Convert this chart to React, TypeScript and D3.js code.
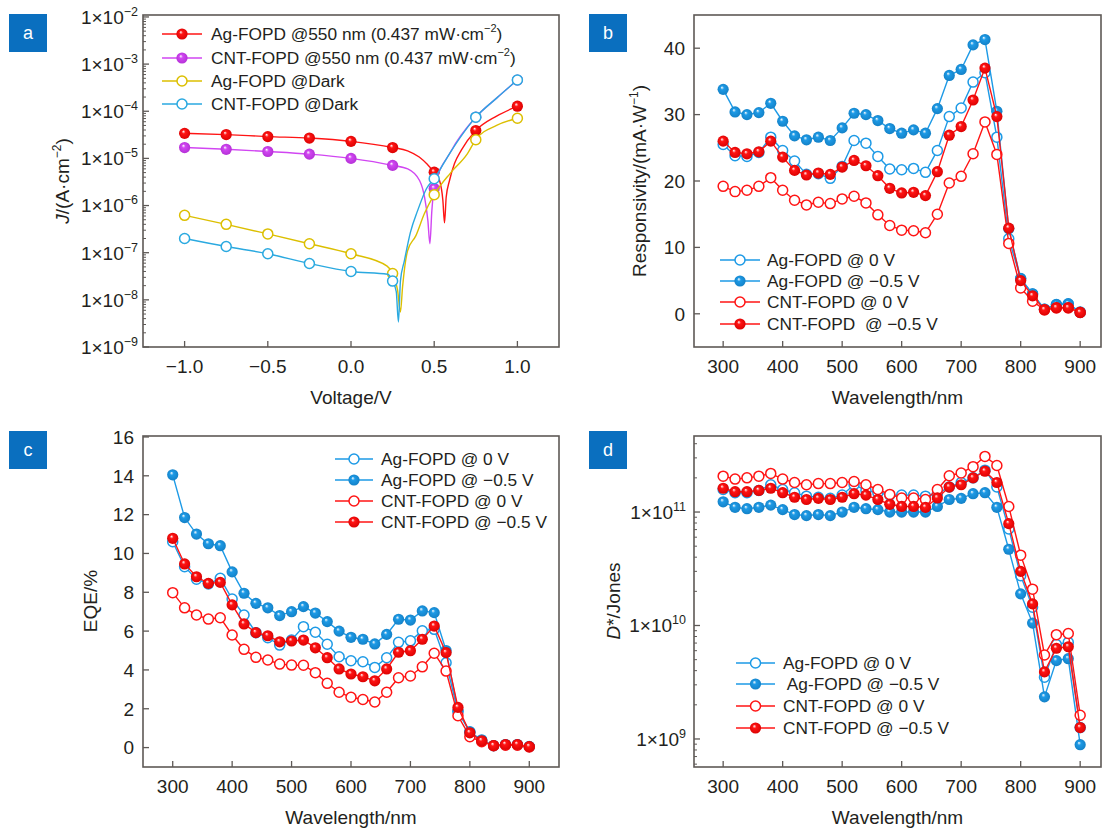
import { useEffect, useRef } from 'react';
import * as d3 from 'd3';

// ---- panel a: J-V curves (points along each measured curve) ----
const markerVolts = [-1, -0.75, -0.5, -0.25, 0, 0.25, 0.5, 0.75, 1];

const agLightV = [-1, -0.75, -0.5, -0.25, 0, 0.25, 0.34, 0.41, 0.46, 0.5, 0.532, 0.552, 0.562, 0.572, 0.592, 0.622, 0.663, 0.75, 0.875, 1];
const agLightJ = [3.4e-5, 3.2e-5, 2.9e-5, 2.7e-5, 2.3e-5, 1.7e-5, 1.45e-5, 1.07e-5, 7.4e-6, 5.1e-6, 3.4e-6, 1.3e-6, 4.3e-7, 1.5e-6, 3.4e-6, 7.8e-6, 1.5e-5, 3.9e-5, 7.9e-5, 1.28e-4];

const cntLightV = [-1, -0.75, -0.5, -0.25, 0, 0.25, 0.341, 0.412, 0.442, 0.462, 0.474, 0.486, 0.5, 0.6, 0.75, 0.875, 1];
const cntLightJ = [1.7e-5, 1.56e-5, 1.4e-5, 1.23e-5, 1.0e-5, 7.1e-6, 6.0e-6, 3.4e-6, 1.5e-6, 4.8e-7, 1.55e-7, 7.9e-7, 2.3e-6, 1.4e-5, 7.5e-5, 1.9e-4, 4.6e-4];

const agDarkV = [-1, -0.75, -0.5, -0.25, 0, 0.217, 0.25, 0.28, 0.297, 0.31, 0.34, 0.39, 0.44, 0.5, 0.6, 0.7, 0.75, 0.875, 1];
const agDarkJ = [6.2e-7, 4.0e-7, 2.5e-7, 1.55e-7, 9.5e-8, 5.2e-8, 3.6e-8, 1.6e-8, 5.5e-9, 1.9e-8, 1.1e-7, 2.3e-7, 6.6e-7, 1.7e-6, 5.0e-6, 1.26e-5, 2.5e-5, 5.0e-5, 7.1e-5];

const cntDarkV = [-1, -0.75, -0.5, -0.25, 0, 0.22, 0.25, 0.272, 0.285, 0.297, 0.321, 0.357, 0.401, 0.454, 0.5, 0.6, 0.75, 0.875, 1];
const cntDarkJ = [2.0e-7, 1.35e-7, 9.5e-8, 5.9e-8, 4.0e-8, 3.5e-8, 2.5e-8, 1.5e-8, 3.4e-9, 2.5e-8, 6.8e-8, 2.7e-7, 7.9e-7, 2.3e-6, 3.7e-6, 1.4e-5, 7.5e-5, 1.9e-4, 4.6e-4];

// ---- panels b-d: spectra ----
const wavelengths = [300, 320, 340, 360, 380, 400, 420, 440, 460, 480, 500, 520, 540, 560, 580, 600, 620, 640, 660, 680, 700, 720, 740, 760, 780, 800, 820, 840, 860, 880, 900];

const respAg0 = [25.5, 23.8, 23.7, 24.3, 26.6, 24.6, 23.0, 21.0, 21.1, 20.4, 22.2, 26.1, 25.7, 23.7, 21.8, 21.7, 21.9, 21.3, 24.6, 29.7, 31.0, 34.9, 36.3, 26.6, 11.3, 5.3, 3.0, 0.7, 1.4, 1.5, 0.2];
const respAgN = [33.8, 30.4, 30.0, 30.3, 31.7, 29.0, 26.8, 26.2, 26.6, 26.1, 28.0, 30.2, 30.0, 29.1, 27.9, 27.2, 27.7, 27.2, 30.9, 35.9, 36.8, 40.5, 41.3, 30.5, 12.8, 5.3, 3.0, 0.7, 1.4, 1.5, 0.3];
const respCnt0 = [19.2, 18.4, 18.6, 19.2, 20.5, 18.6, 17.1, 16.4, 16.8, 16.6, 17.3, 17.7, 16.7, 14.9, 13.3, 12.6, 12.5, 12.2, 15.0, 19.7, 20.7, 24.1, 28.9, 24.0, 10.6, 3.9, 1.9, 0.6, 0.9, 0.9, 0.2];
const respCntN = [26.0, 24.3, 24.1, 24.4, 26.0, 23.6, 21.6, 20.9, 21.2, 21.0, 22.1, 23.1, 22.3, 20.8, 18.9, 18.2, 18.3, 17.8, 21.4, 26.9, 28.2, 32.2, 37.0, 29.7, 12.9, 5.0, 2.7, 0.6, 0.9, 0.9, 0.2];

const eqeAg0 = [10.6, 9.32, 8.67, 8.43, 8.72, 7.65, 6.83, 5.92, 5.66, 5.28, 5.54, 6.23, 5.94, 5.32, 4.68, 4.47, 4.42, 4.13, 4.63, 5.42, 5.5, 6.02, 6.09, 4.37, 1.85, 0.81, 0.35, 0.1, 0.15, 0.15, 0.05];
const eqeAgN = [14.05, 11.85, 11.0, 10.5, 10.4, 9.05, 7.95, 7.43, 7.2, 6.8, 7.0, 7.26, 6.93, 6.49, 6.0, 5.68, 5.58, 5.34, 5.83, 6.61, 6.57, 7.04, 6.95, 5.0, 1.9, 0.8, 0.4, 0.1, 0.15, 0.15, 0.05];
const eqeCnt0 = [7.98, 7.2, 6.83, 6.62, 6.69, 5.8, 5.06, 4.65, 4.51, 4.3, 4.25, 4.24, 3.86, 3.31, 2.85, 2.59, 2.48, 2.35, 2.85, 3.6, 3.69, 4.16, 4.86, 3.94, 1.64, 0.56, 0.3, 0.1, 0.12, 0.12, 0.03];
const eqeCntN = [10.78, 9.46, 8.8, 8.46, 8.51, 7.35, 6.37, 5.92, 5.76, 5.45, 5.49, 5.54, 5.14, 4.63, 4.05, 3.79, 3.65, 3.44, 4.05, 4.91, 4.99, 5.58, 6.26, 4.89, 2.07, 0.76, 0.35, 0.1, 0.16, 0.16, 0.05];

const detAg0 = [1.58e11, 1.48e11, 1.48e11, 1.55e11, 1.74e11, 1.58e11, 1.48e11, 1.38e11, 1.35e11, 1.32e11, 1.41e11, 1.74e11, 1.55e11, 1.48e11, 1.41e11, 1.41e11, 1.41e11, 1.38e11, 1.45e11, 1.66e11, 1.82e11, 2.0e11, 2.34e11, 1.66e11, 7.1e10, 2.75e10, 1.45e10, 3.5e9, 6.8e9, 7.1e9, 1.26e9];
const detAgN = [1.23e11, 1.1e11, 1.07e11, 1.1e11, 1.15e11, 1.05e11, 9.5e10, 9.3e10, 9.5e10, 9.3e10, 1.0e11, 1.1e11, 1.07e11, 1.05e11, 1.0e11, 1.0e11, 1.0e11, 1.0e11, 1.12e11, 1.29e11, 1.32e11, 1.45e11, 1.48e11, 1.1e11, 4.7e10, 1.9e10, 1.05e10, 2.35e9, 4.9e9, 5.1e9, 8.9e8];
const detCnt0 = [2.07e11, 1.95e11, 2.0e11, 2.07e11, 2.19e11, 1.95e11, 1.82e11, 1.74e11, 1.78e11, 1.78e11, 1.82e11, 1.86e11, 1.74e11, 1.58e11, 1.43e11, 1.33e11, 1.33e11, 1.29e11, 1.58e11, 2.09e11, 2.21e11, 2.51e11, 3.09e11, 2.57e11, 1.12e11, 4.17e10, 2.09e10, 5.5e9, 8.3e9, 8.5e9, 1.62e9];
const detCntN = [1.62e11, 1.51e11, 1.51e11, 1.55e11, 1.62e11, 1.48e11, 1.35e11, 1.29e11, 1.32e11, 1.29e11, 1.35e11, 1.45e11, 1.41e11, 1.29e11, 1.17e11, 1.12e11, 1.12e11, 1.1e11, 1.33e11, 1.66e11, 1.74e11, 2.0e11, 2.29e11, 1.82e11, 7.9e10, 3.0e10, 1.55e10, 3.9e9, 6.3e9, 6.5e9, 1.26e9];

const voltTicks = [-1, -0.5, 0, 0.5, 1];
const waveTicks = [300, 400, 500, 600, 700, 800, 900];
const respTicks = [0, 10, 20, 30, 40];
const eqeTicks = [0, 2, 4, 6, 8, 10, 12, 14, 16];
const jExps = [-9, -8, -7, -6, -5, -4, -3, -2];
const dExps = [8, 9, 10, 11];

const FONT = '"Liberation Sans", Arial, Helvetica, sans-serif';
const TXT = '#231f20';
const AXIS = '#5e5956';
const RED = '#ff1414';
const BLUE = '#1d9ae6';
const MAGENTA = '#d146f2';
const YELLOW = '#dcbf00';
const CYAN = '#2aa9e0';
const FS = 19;      // ticks and axis titles
const FSL = 17.3;   // legends

type Box = { left: number; right: number; top: number; bottom: number };
type Txt = d3.Selection<SVGTextElement, unknown, null, undefined>;

export default function App() {
  const ref = useRef<SVGSVGElement>(null);

  useEffect(() => {
    const svg = d3.select(ref.current);
    svg.selectAll('*').remove();
    svg.append('rect').attr('width', 1103).attr('height', 828).attr('fill', '#fff');

    // shaded balls for filled markers
    const defs = svg.append('defs');
    const ball = (id: string, c: string, dark: string) => {
      const g = defs.append('radialGradient').attr('id', id)
        .attr('cx', '50%').attr('cy', '50%').attr('r', '55%').attr('fx', '38%').attr('fy', '32%');
      g.append('stop').attr('offset', '0%').attr('stop-color', '#fff');
      g.append('stop').attr('offset', '30%').attr('stop-color', c);
      g.append('stop').attr('offset', '100%').attr('stop-color', dark);
    };
    ball('gRed', RED, '#d80000');
    ball('gBlue', BLUE, '#137fc4');
    ball('gMag', MAGENTA, '#b22fd4');

    const root = svg.append('g').attr('font-family', FONT).attr('fill', TXT);

    const frame = (b: Box) => {
      root.append('rect')
        .attr('x', b.left).attr('y', b.top)
        .attr('width', b.right - b.left).attr('height', b.bottom - b.top)
        .attr('fill', 'none').attr('stroke', AXIS).attr('stroke-width', 1.6);
    };

    const sup = (t: Txt, base: string, s: string, after = '', size = 12) => {
      t.append('tspan').text(base);
      t.append('tspan').attr('font-size', size).attr('dy', -8).text(s);
      if (after) t.append('tspan').attr('dy', 8).text(after);
    };

    const xTicks = (b: Box, x: d3.ScaleLinear<number, number>, vals: number[], fmt: (v: number) => string) => {
      vals.forEach(v => {
        root.append('line').attr('x1', x(v)).attr('x2', x(v)).attr('y1', b.bottom).attr('y2', b.bottom - 6)
          .attr('stroke', AXIS).attr('stroke-width', 1.3);
        root.append('text').attr('x', x(v)).attr('y', b.bottom + 19).attr('dy', '0.36em')
          .attr('text-anchor', 'middle').attr('font-size', FS).text(fmt(v));
      });
    };

    const yTicksLin = (b: Box, y: d3.ScaleLinear<number, number>, vals: number[]) => {
      vals.forEach(v => {
        root.append('line').attr('x1', b.left).attr('x2', b.left + 6).attr('y1', y(v)).attr('y2', y(v))
          .attr('stroke', AXIS).attr('stroke-width', 1.3);
        root.append('text').attr('x', b.left - 9).attr('y', y(v)).attr('dy', '0.36em')
          .attr('text-anchor', 'end').attr('font-size', FS).text(String(v));
      });
    };

    const yTicksLog = (b: Box, y: d3.ScaleLogarithmic<number, number>, exps: number[], neg: boolean, gap: number) => {
      const [lo, hi] = y.domain();
      exps.forEach(e => {
        const v = Math.pow(10, e);
        if (v >= lo && v <= hi * 1.001) {
          root.append('line').attr('x1', b.left).attr('x2', b.left + 6).attr('y1', y(v)).attr('y2', y(v))
            .attr('stroke', AXIS).attr('stroke-width', 1.3);
          const t = root.append('text').attr('x', b.left - gap).attr('y', y(v)).attr('dy', '0.36em')
            .attr('text-anchor', 'end').attr('font-size', FS);
          sup(t, '1×10', neg ? '−' + Math.abs(e) : String(e), '', 12.5);
        }
        for (let m = 2; m <= 9; m++) {
          const mv = m * v;
          if (mv > lo && mv < hi) {
            root.append('line').attr('x1', b.left).attr('x2', b.left + 3).attr('y1', y(mv)).attr('y2', y(mv))
              .attr('stroke', AXIS).attr('stroke-width', 1);
          }
        }
      });
    };

    const marker = (g: d3.Selection<SVGGElement, unknown, null, undefined>, cx: number, cy: number, color: string, grad: string | null) => {
      if (grad) {
        g.append('circle').attr('cx', cx).attr('cy', cy).attr('r', 5.6).attr('fill', `url(#${grad})`);
      } else {
        g.append('circle').attr('cx', cx).attr('cy', cy).attr('r', 5).attr('fill', '#fff')
          .attr('stroke', color).attr('stroke-width', 1.5);
      }
    };

    const series = (xs: number[], ys: number[], x: (v: number) => number, y: (v: number) => number,
      color: string, grad: string | null, markAt: number[] | null, smooth: boolean) => {
      const g = root.append('g');
      const pts = xs.map((v, i) => [x(v), y(ys[i])] as [number, number]);
      const line = d3.line().curve(smooth ? d3.curveMonotoneX : d3.curveLinear);
      g.append('path').attr('d', line(pts)).attr('fill', 'none').attr('stroke', color).attr('stroke-width', 1.4);
      xs.forEach((v, i) => {
        if (markAt && !markAt.includes(v)) return;
        marker(g, pts[i][0], pts[i][1], color, grad);
      });
    };

    type Item = { color: string; grad: string | null; label: (t: Txt) => void };
    const legend = (items: Item[], x0: number, x1: number, xt: number, ys: number[]) => {
      items.forEach((it, i) => {
        const g = root.append('g');
        g.append('line').attr('x1', x0).attr('x2', x1).attr('y1', ys[i]).attr('y2', ys[i])
          .attr('stroke', it.color).attr('stroke-width', 1.4);
        marker(g, (x0 + x1) / 2, ys[i], it.color, it.grad);
        const t = root.append('text').attr('x', xt).attr('y', ys[i]).attr('dy', '0.36em').attr('font-size', FSL)
          .attr('xml:space', 'preserve');
        it.label(t);
      });
    };

    const tag = (x: number, y: number, s: string) => {
      root.append('rect').attr('x', x).attr('y', y).attr('width', 38).attr('height', 38).attr('fill', '#0a6fbf');
      root.append('text').attr('x', x + 19).attr('y', y + 19).attr('dy', '0.36em').attr('text-anchor', 'middle')
        .attr('font-size', 18).attr('fill', '#fff').text(s);
    };

    const yTitle = (cx: number, cy: number, build: (t: Txt) => void) => {
      const t = root.append('text').attr('transform', `translate(${cx},${cy}) rotate(-90)`)
        .attr('text-anchor', 'middle').attr('dy', '0.36em').attr('font-size', FS);
      build(t);
    };
    const xTitle = (cx: number, cy: number, s: string) => {
      root.append('text').attr('x', cx).attr('y', cy).attr('dy', '0.36em').attr('text-anchor', 'middle')
        .attr('font-size', FS).text(s);
    };

    // ================= panel a =================
    const bA: Box = { left: 143, right: 559, top: 15, bottom: 347 };
    const xA = d3.scaleLinear().domain([-1.25, 1.25]).range([bA.left, bA.right]);
    const yA = d3.scaleLog().domain([1e-9, 1.1e-2]).range([bA.bottom, bA.top]);
    series(agLightV, agLightJ, xA, yA, RED, 'gRed', markerVolts, true);
    series(cntLightV, cntLightJ, xA, yA, MAGENTA, 'gMag', markerVolts, true);
    series(agDarkV, agDarkJ, xA, yA, YELLOW, null, markerVolts, true);
    series(cntDarkV, cntDarkJ, xA, yA, CYAN, null, markerVolts, true);
    frame(bA);
    xTicks(bA, xA, voltTicks, v => (v < 0 ? '−' : '') + Math.abs(v).toFixed(1));
    yTicksLog(bA, yA, jExps, true, 5);
    xTitle((bA.left + bA.right) / 2, 397, 'Voltage/V');
    yTitle(62, 181, t => {
      t.append('tspan').attr('font-style', 'italic').text('J');
      sup(t, '/(A·cm', '−2', ')');
    });
    legend([
      { color: RED, grad: 'gRed', label: t => sup(t, 'Ag-FOPD @550 nm (0.437 mW·cm', '−2', ')', 11) },
      { color: MAGENTA, grad: 'gMag', label: t => sup(t, 'CNT-FOPD @550 nm (0.437 mW·cm', '−2', ')', 11) },
      { color: YELLOW, grad: null, label: t => { t.text('Ag-FOPD @Dark'); } },
      { color: CYAN, grad: null, label: t => { t.text('CNT-FOPD @Dark'); } },
    ], 162, 202, 211, [34, 58, 81, 104]);
    tag(9, 14, 'a');

    // ================= panel b =================
    const bB: Box = { left: 694, right: 1101, top: 15, bottom: 347 };
    const xB = d3.scaleLinear().domain([251, 935]).range([bB.left, bB.right]);
    const yB = d3.scaleLinear().domain([-5, 45]).range([bB.bottom, bB.top]);
    series(wavelengths, respAg0, xB, yB, BLUE, null, null, false);
    series(wavelengths, respAgN, xB, yB, BLUE, 'gBlue', null, false);
    series(wavelengths, respCnt0, xB, yB, RED, null, null, false);
    series(wavelengths, respCntN, xB, yB, RED, 'gRed', null, false);
    frame(bB);
    xTicks(bB, xB, waveTicks, v => String(v));
    yTicksLin(bB, yB, respTicks);
    xTitle((bB.left + bB.right) / 2, 397, 'Wavelength/nm');
    yTitle(639, 181, t => sup(t, 'Responsivity/(mA·W', '−1', ')'));
    legend([
      { color: BLUE, grad: null, label: t => { t.text('Ag-FOPD @ 0 V'); } },
      { color: BLUE, grad: 'gBlue', label: t => { t.text('Ag-FOPD @ −0.5 V'); } },
      { color: RED, grad: null, label: t => { t.text('CNT-FOPD @ 0 V'); } },
      { color: RED, grad: 'gRed', label: t => { t.text('CNT-FOPD  @ −0.5 V'); } },
    ], 720, 760, 767, [260, 281, 302, 324]);
    tag(589, 14, 'b');

    // ================= panel c =================
    const bC: Box = { left: 143, right: 559, top: 436, bottom: 767 };
    const xC = d3.scaleLinear().domain([250, 950]).range([bC.left, bC.right]);
    const yC = d3.scaleLinear().domain([-1, 16.05]).range([bC.bottom, bC.top]);
    series(wavelengths, eqeAg0, xC, yC, BLUE, null, null, false);
    series(wavelengths, eqeAgN, xC, yC, BLUE, 'gBlue', null, false);
    series(wavelengths, eqeCnt0, xC, yC, RED, null, null, false);
    series(wavelengths, eqeCntN, xC, yC, RED, 'gRed', null, false);
    frame(bC);
    xTicks(bC, xC, waveTicks, v => String(v));
    yTicksLin(bC, yC, eqeTicks);
    xTitle((bC.left + bC.right) / 2, 817, 'Wavelength/nm');
    yTitle(90, 601, t => { t.text('EQE/%'); });
    legend([
      { color: BLUE, grad: null, label: t => { t.text('Ag-FOPD @ 0 V'); } },
      { color: BLUE, grad: 'gBlue', label: t => { t.text('Ag-FOPD @ −0.5 V'); } },
      { color: RED, grad: null, label: t => { t.text('CNT-FOPD @ 0 V'); } },
      { color: RED, grad: 'gRed', label: t => { t.text('CNT-FOPD @ −0.5 V'); } },
    ], 335, 373, 381, [459, 480, 501, 522]);
    tag(9, 431, 'c');

    // ================= panel d =================
    const bD: Box = { left: 694, right: 1101, top: 436, bottom: 767 };
    const xD = d3.scaleLinear().domain([251, 935]).range([bD.left, bD.right]);
    const yD = d3.scaleLog().domain([Math.pow(10, 8.753), Math.pow(10, 11.67)]).range([bD.bottom, bD.top]);
    series(wavelengths, detAg0, xD, yD, BLUE, null, null, false);
    series(wavelengths, detAgN, xD, yD, BLUE, 'gBlue', null, false);
    series(wavelengths, detCnt0, xD, yD, RED, null, null, false);
    series(wavelengths, detCntN, xD, yD, RED, 'gRed', null, false);
    frame(bD);
    xTicks(bD, xD, waveTicks, v => String(v));
    yTicksLog(bD, yD, dExps, false, 8);
    xTitle((bD.left + bD.right) / 2, 817, 'Wavelength/nm');
    yTitle(613, 601, t => {
      t.append('tspan').attr('font-style', 'italic').text('D');
      t.append('tspan').text('*/Jones');
    });
    legend([
      { color: BLUE, grad: null, label: t => { t.text('Ag-FOPD @ 0 V'); } },
      { color: BLUE, grad: 'gBlue', label: t => { t.text(' Ag-FOPD @ −0.5 V'); } },
      { color: RED, grad: null, label: t => { t.text('CNT-FOPD @ 0 V'); } },
      { color: RED, grad: 'gRed', label: t => { t.text('CNT-FOPD @ −0.5 V'); } },
    ], 736, 775, 783, [663, 684, 706, 728]);
    tag(589, 431, 'd');
  }, []);

  return (
    <svg ref={ref} width={1103} height={828}
      style={{ position: 'absolute', left: 0, top: 0, display: 'block' }} />
  );
}
